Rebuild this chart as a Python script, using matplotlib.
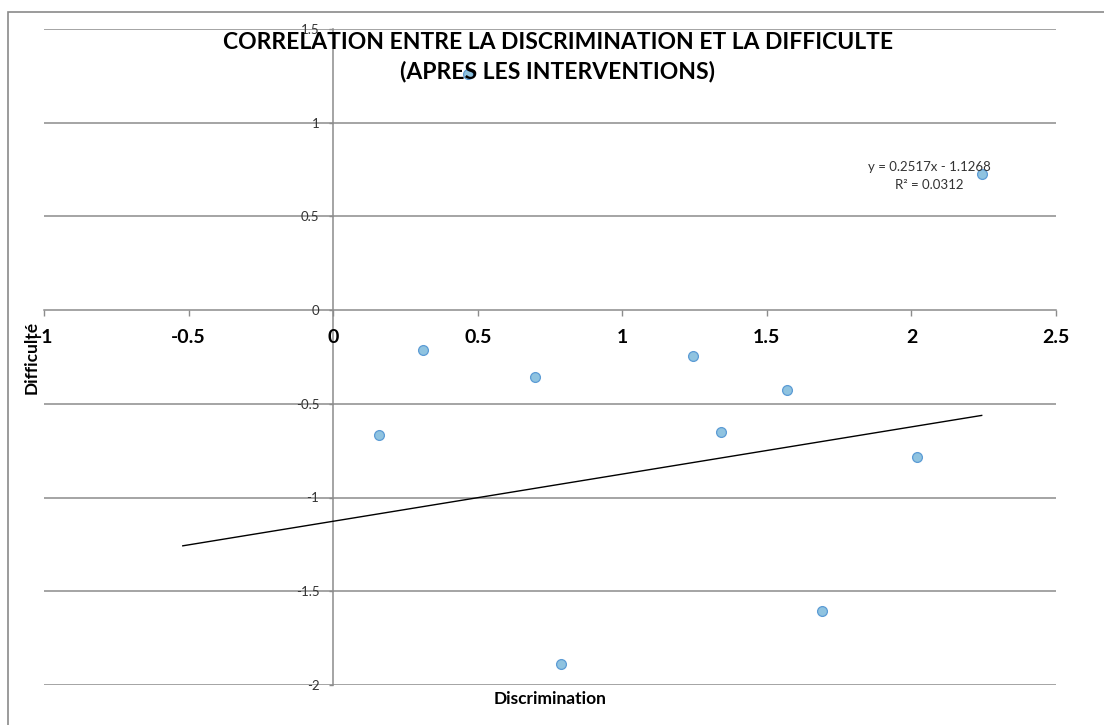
import matplotlib.pyplot as plt
from matplotlib.patches import Rectangle
import numpy as np

# ============================================================
# Data
# ============================================================
discrimination = [0.467, 0.160, 0.312, 0.697, 0.788, 1.243, 1.343, 1.569, 1.691, 2.020, 2.243]
difficulte = [1.259, -0.667, -0.213, -0.358, -1.887, -0.245, -0.653, -0.426, -1.605, -0.785, 0.724]

# linear trendline as printed on the chart (with backward forecast)
slope = 0.2517
intercept = -1.1268
r_squared = 0.0312
trend_start = -0.52

x_ticks = [-1, -0.5, 0, 0.5, 1, 1.5, 2, 2.5]
x_tick_labels = ["-1", "-0.5", "0", "0.5", "1", "1.5", "2", "2.5"]
y_ticks = [-2, -1.5, -1, -0.5, 0, 0.5, 1, 1.5]
y_tick_labels = ["-2", "-1.5", "-1", "-0.5", "0", "0.5", "1", "1.5"]

title = "CORRELATION ENTRE LA DISCRIMINATION ET LA DIFFICULTE\n(APRES LES INTERVENTIONS)"

# ============================================================
# Plot
# ============================================================
plt.rcParams["font.family"] = ["Lato", "DejaVu Sans"]

grid_color = "#8c8c8c"
W, H = 1104, 725
fig = plt.figure(figsize=(W / 100, H / 100), dpi=100)

# chart area border
fig.patches.append(Rectangle((7.5 / W, -0.1), 1.2, (H - 11.5) / H + 0.1,
                             transform=fig.transFigure, fill=False,
                             edgecolor="#8a8a8a", linewidth=1.2))

ax = fig.add_axes([44 / W, (H - 685) / H, 1012 / W, (685 - 28.75) / H])
ax.set_xlim(-1, 2.5)
ax.set_ylim(-2, 1.5)

for y in y_ticks:
    if y != 0:
        ax.axhline(y, color=grid_color, linewidth=1.1, zorder=1)

ax.spines["left"].set_position(("data", 0))
ax.spines["bottom"].set_position(("data", 0))
ax.spines["top"].set_visible(False)
ax.spines["right"].set_visible(False)
for s in ("left", "bottom"):
    ax.spines[s].set_color(grid_color)
    ax.spines[s].set_linewidth(1.1)
    ax.spines[s].set_zorder(1)

ax.set_xticks(x_ticks)
ax.set_xticklabels(x_tick_labels, fontsize=14, fontweight="bold", color="black")
ax.set_yticks(y_ticks)
ax.set_yticklabels(y_tick_labels, fontsize=9.5, color="#333333")
ax.tick_params(axis="x", direction="out", length=4.5, width=1, color=grid_color, pad=9)
ax.tick_params(axis="y", direction="out", length=3, width=1, color=grid_color, pad=7)

ax.scatter(discrimination, difficulte, s=50, color="#8fc3e0", edgecolor="#5b9bd5",
           linewidth=0.9, zorder=3)

tx = np.array([trend_start, max(discrimination)])
ax.plot(tx, slope * tx + intercept, color="black", linewidth=1, zorder=2)

eq_text = f"y = {slope}x - {abs(intercept)}\nR² = {r_squared}"
ax.text(max(discrimination) - 0.18, 0.714, eq_text, ha="center", va="center",
        fontsize=9.5, color="#333333", linespacing=1.55, zorder=4)

fig.text(558 / W, 1 - 57 / H, title, ha="center", va="center", fontsize=16.5,
         fontweight="bold", linespacing=1.4, zorder=5)

fig.text(550 / W, 1 - 699 / H, "Discrimination", ha="center", va="center",
         fontsize=12.5, fontweight="bold")
fig.text(32 / W, 1 - 357 / H, "Difficulté", ha="center", va="center",
         fontsize=12.5, fontweight="bold", rotation=90)

fig.savefig("out.png", dpi=100)
